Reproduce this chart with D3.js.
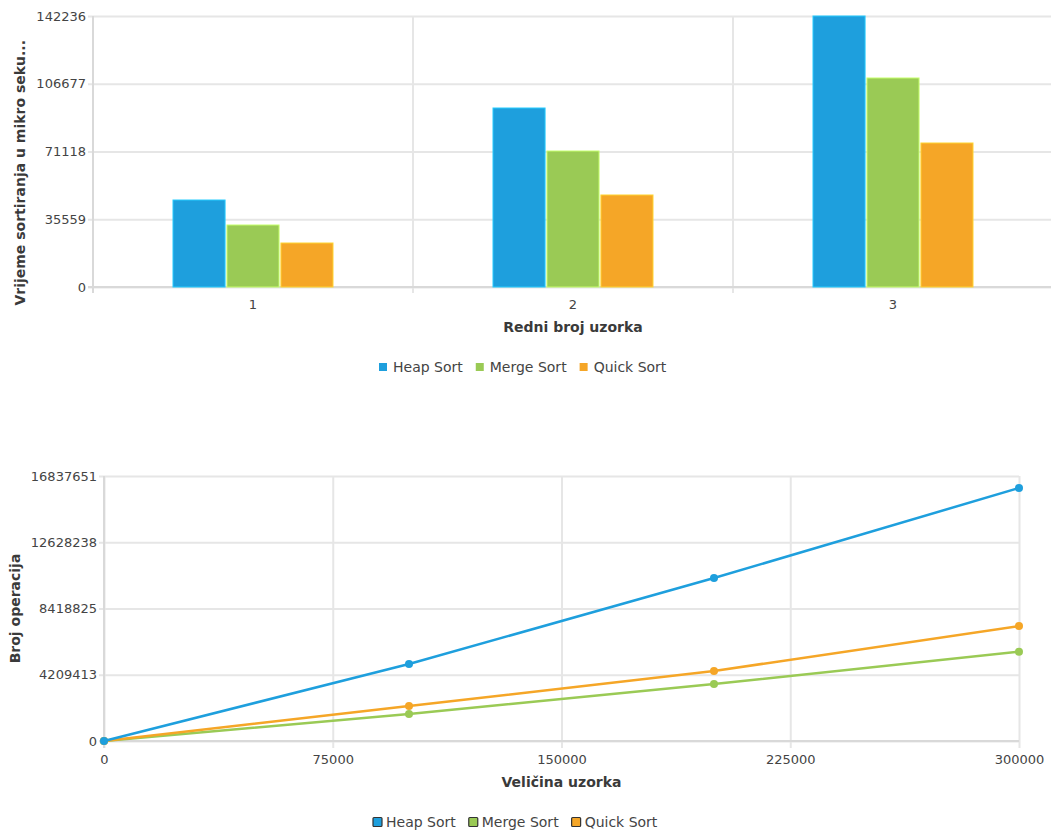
<!DOCTYPE html>
<html>
<head>
<meta charset="utf-8">
<script src="https://cdn.jsdelivr.net/npm/d3@7"></script>
<style>
  body { margin: 0; background: #fff; }
  svg { display: block; font-family: "DejaVu Sans", sans-serif; }
  svg .tick text { fill: #444; font-size: 13px; font-family: "DejaVu Sans", sans-serif; }
  .title { fill: #3a3a3a; font-size: 14px; font-weight: bold; }
  .legend text { fill: #444; font-size: 14px; }
</style>
</head>
<body>
<svg id="chart" width="1051" height="832"></svg>
<script>
// top chart: sorting time per sample
const series = ["Heap Sort", "Merge Sort", "Quick Sort"];
const colors = ["#1E9FDD", "#9ACA55", "#F5A627"];
const samples = ["1", "2", "3"];
const heapTime = [45660, 93950, 142236];
const mergeTime = [32540, 71380, 109700];
const quickTime = [23090, 48290, 75580];
const timeTicks = [0, 35559, 71118, 106677, 142236];

// bottom chart: operation count vs sample size
const sizes = [0, 100000, 200000, 300000];
const heapOps = [0, 4892000, 10357000, 16075000];
const mergeOps = [0, 1715000, 3622000, 5674000];
const quickOps = [0, 2224000, 4448000, 7307000];
const opsTicks = [0, 4209413, 8418825, 12628238, 16837651];
const sizeTicks = [0, 75000, 150000, 225000, 300000];

const svg = d3.select("#chart");
const gridColor = "#e6e6e6";
const axisColor = "#d9d9d9";
const fmt = d3.format("d");

// ---------- bar chart ----------
{
  const left = 93, right = 1053, top = 16, bottom = 287;

  const x0 = d3.scaleBand().domain(samples).range([left, right]);
  const bw = x0.bandwidth();
  const x1 = d3.scaleBand().domain(series)
      .range([bw * 0.25, bw * 0.75]).paddingInner(0.035);
  const y = d3.scaleLinear().domain([0, 142236]).range([bottom, top]);

  const g = svg.append("g");

  // horizontal grid + y labels
  const yAxis = g.append("g")
      .attr("transform", `translate(${left},0)`)
      .call(d3.axisLeft(y).tickValues(timeTicks).tickFormat(fmt)
        .tickSizeInner(-(right - left)).tickSizeOuter(0).tickPadding(7));
  yAxis.select(".domain").remove();
  yAxis.selectAll(".tick line")
      .attr("x1", -5)
      .attr("stroke", gridColor).attr("stroke-width", 2);

  // category separators
  g.selectAll(".sep")
    .data(samples.slice(1))
    .join("line")
      .attr("x1", d => x0(d)).attr("x2", d => x0(d))
      .attr("y1", top).attr("y2", bottom + 6)
      .attr("stroke", gridColor).attr("stroke-width", 2);

  // axis lines
  g.append("line")
      .attr("x1", left).attr("x2", left)
      .attr("y1", top).attr("y2", bottom + 6)
      .attr("stroke", axisColor).attr("stroke-width", 2);
  g.append("line")
      .attr("x1", left - 5).attr("x2", right)
      .attr("y1", bottom).attr("y2", bottom)
      .attr("stroke", axisColor).attr("stroke-width", 2);

  const xAxis = g.append("g")
      .attr("transform", `translate(0,${bottom})`)
      .call(d3.axisBottom(x0).tickSize(0).tickPadding(13));
  xAxis.select(".domain").remove();

  const vals = [heapTime, mergeTime, quickTime];
  const rows = samples.map((s, i) => ({ s, v: series.map((k, j) => ({ k, j, val: vals[j][i] })) }));

  g.selectAll(".grp")
    .data(rows)
    .join("g")
      .attr("transform", d => `translate(${x0(d.s)},0)`)
    .selectAll("rect")
    .data(d => d.v)
    .join("rect")
      .attr("x", d => x1(d.k))
      .attr("width", x1.bandwidth())
      .attr("y", d => y(d.val))
      .attr("height", d => y(0) - y(d.val))
      .attr("fill", d => colors[d.j])
      .attr("stroke", d => d3.color(colors[d.j]).brighter(0.7))
      .attr("stroke-width", 1);

  g.append("text").attr("class", "title")
      .attr("text-anchor", "middle")
      .attr("x", (left + right) / 2).attr("y", 332)
      .text("Redni broj uzorka");

  g.append("text").attr("class", "title")
      .attr("text-anchor", "end")
      .attr("transform", "translate(25,40) rotate(-90)")
      .text("Vrijeme sortiranja u mikro seku...");

  // legend
  const lg = g.append("g").attr("class", "legend").attr("transform", "translate(379,367)");
  let lx = 0;
  series.forEach((s, i) => {
    lg.append("rect").attr("x", lx).attr("y", -4).attr("width", 8).attr("height", 8).attr("fill", colors[i]);
    const t = lg.append("text").attr("x", lx + 14).attr("y", 5).text(s);
    lx += 14 + t.node().getComputedTextLength() + 13;
  });
}

// ---------- line chart ----------
{
  const left = 104, right = 1019, top = 476, bottom = 741;

  const x = d3.scaleLinear().domain([0, 300000]).range([left, right]);
  const y = d3.scaleLinear().domain([0, 16837651]).range([bottom, top]);

  const g = svg.append("g");

  const yAxis = g.append("g")
      .attr("transform", `translate(${left},0)`)
      .call(d3.axisLeft(y).tickValues(opsTicks).tickFormat(fmt)
        .tickSizeInner(-(right - left)).tickSizeOuter(0).tickPadding(7));
  yAxis.select(".domain").remove();
  yAxis.selectAll(".tick line")
      .attr("x1", -5)
      .attr("stroke", gridColor).attr("stroke-width", 2);

  const xAxis = g.append("g")
      .attr("transform", `translate(0,${bottom})`)
      .call(d3.axisBottom(x).tickValues(sizeTicks).tickFormat(fmt)
        .tickSizeInner(-(bottom - top)).tickSizeOuter(0).tickPadding(14));
  xAxis.select(".domain").remove();
  xAxis.selectAll(".tick line")
      .attr("y1", 7)
      .attr("stroke", gridColor).attr("stroke-width", 2);

  g.append("line")
      .attr("x1", left).attr("x2", left)
      .attr("y1", top).attr("y2", bottom + 7)
      .attr("stroke", axisColor).attr("stroke-width", 2);
  g.append("line")
      .attr("x1", left - 5).attr("x2", right)
      .attr("y1", bottom).attr("y2", bottom)
      .attr("stroke", axisColor).attr("stroke-width", 2);

  const vals = [heapOps, mergeOps, quickOps];
  const line = d3.line().x(d => x(d[0])).y(d => y(d[1]));
  // draw in order so orange sits over green, blue on top
  [1, 2, 0].forEach(j => {
    const pts = sizes.map((s, i) => [s, vals[j][i]]);
    g.append("path")
        .datum(pts)
        .attr("d", line)
        .attr("fill", "none")
        .attr("stroke", colors[j])
        .attr("stroke-width", 2.5);
    g.selectAll(".pt" + j)
      .data(pts)
      .join("circle")
        .attr("cx", d => x(d[0]))
        .attr("cy", d => y(d[1]))
        .attr("r", 4)
        .attr("fill", colors[j]);
  });

  g.append("text").attr("class", "title")
      .attr("text-anchor", "middle")
      .attr("x", (left + right) / 2).attr("y", 787)
      .text("Veličina uzorka");

  g.append("text").attr("class", "title")
      .attr("text-anchor", "middle")
      .attr("transform", `translate(20,${(top + bottom) / 2}) rotate(-90)`)
      .text("Broj operacija");

  const lg = g.append("g").attr("class", "legend").attr("transform", "translate(373,822)");
  let lx = 0;
  series.forEach((s, i) => {
    lg.append("rect").attr("x", lx).attr("y", -4.5).attr("width", 9).attr("height", 9)
      .attr("fill", colors[i]).attr("stroke", "#333").attr("stroke-width", 1.2).attr("rx", 1);
    const t = lg.append("text").attr("x", lx + 13).attr("y", 5).text(s);
    lx += 13 + t.node().getComputedTextLength() + 13;
  });
}
</script>
</body>
</html>
